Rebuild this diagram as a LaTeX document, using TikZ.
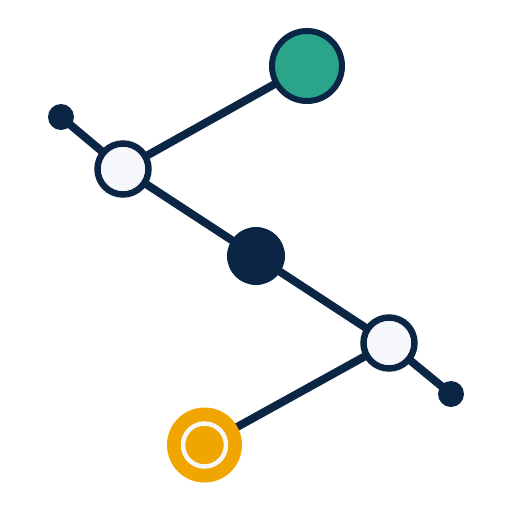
\documentclass[tikz,border=0pt]{standalone}
\usetikzlibrary{positioning}
\definecolor{navy}{HTML}{0B2545}
\definecolor{teal}{HTML}{2BA58A}
\definecolor{amber}{HTML}{F0A500}
\definecolor{pale}{HTML}{F5F7FA}
\begin{document}
\begin{tikzpicture}[x=1pt,y=-1pt,
  link/.style={draw=navy,line width=8pt},
  hub/.style={circle,inner sep=0pt,minimum size=51pt,draw=navy,line width=6.5pt,fill=pale},
  tip/.style={circle,inner sep=0pt,minimum size=26pt,fill=navy},
  core/.style={circle,inner sep=0pt,minimum size=58pt,fill=navy},
  goal/.style={circle,inner sep=0pt,minimum size=70pt,draw=navy,line width=6pt,fill=teal},
  start/.style={circle,inner sep=0pt,minimum size=75pt,fill=amber}]
\useasboundingbox (0,0) rectangle (512,512);
\coordinate (ta) at (61,117);
\coordinate (ha) at (123,169);
\coordinate (g) at (307,66);
\coordinate (c) at (256,256);
\coordinate (hb) at (389,343);
\coordinate (tb) at (451,394);
\coordinate (s) at (204.5,445);
\draw[link] (ta) -- (ha) -- (g);
\draw[link] (ha) -- (c) -- (hb) -- (tb);
\draw[link] (hb) -- (s);
\node[tip] (nta) at (ta) {};
\node[tip] (ntb) at (tb) {};
\node[hub] (nha) at (ha) {};
\node[hub] (nhb) at (hb) {};
\node[core] (nc) at (c) {};
\node[goal] (ng) at (g) {};
\node[start] (ns) at (s) {};
\draw[pale,line width=4.5pt] (ns.center) circle[radius=21.5];
\end{tikzpicture}
\end{document}
